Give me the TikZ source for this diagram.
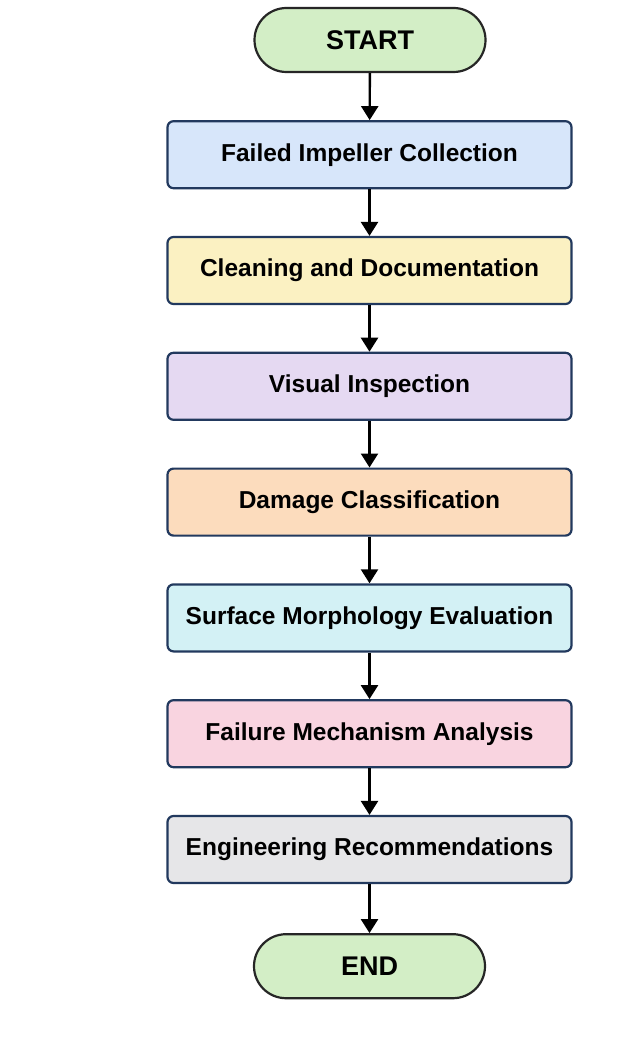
\documentclass[tikz,border=0pt]{standalone}
\usepackage{fontspec}
\setmainfont{Liberation Sans}
\usetikzlibrary{positioning,arrows.meta}

\definecolor{edgeblue}{HTML}{22395E}
\definecolor{termgreen}{HTML}{D3EEC6}
\definecolor{collblue}{HTML}{D7E6FA}
\definecolor{cleanyellow}{HTML}{FBF1C2}
\definecolor{inspviolet}{HTML}{E5D9F2}
\definecolor{classorange}{HTML}{FCDCBD}
\definecolor{morphcyan}{HTML}{D3F1F5}
\definecolor{mechpink}{HTML}{F9D4E0}
\definecolor{recgray}{HTML}{E6E6E8}

\begin{document}
\begin{tikzpicture}[x=1pt,y=1pt,
  stage/.style={draw=edgeblue, line width=2.2pt, rounded corners=6pt,
    minimum width=404pt, minimum height=67pt, inner sep=0pt,
    font=\fontsize{24.5}{28}\selectfont\bfseries},
  term/.style={draw=black!85, line width=2.2pt, fill=termgreen, rounded corners=32pt,
    minimum width=231pt, minimum height=64pt, inner sep=0pt,
    font=\fontsize{27}{30}\selectfont\bfseries},
  node distance=46.6pt]
\useasboundingbox[fill=white] (0,0) rectangle (627,-1051);

\node[term] (start) at (370,-40) {START};
\node[stage, fill=collblue, below=47pt of start.south, anchor=north, xshift=-0.5pt] (collect) {Failed Impeller Collection};
\node[stage, fill=cleanyellow, below=of collect] (clean) {Cleaning and Documentation};
\node[stage, fill=inspviolet, below=of clean] (inspect) {Visual Inspection};
\node[stage, fill=classorange, below=of inspect] (classify) {Damage Classification};
\node[stage, fill=morphcyan, below=of classify] (morph) {Surface Morphology Evaluation};
\node[stage, fill=mechpink, below=of morph] (mech) {Failure Mechanism Analysis};
\node[stage, fill=recgray, below=of mech] (recomm) {Engineering Recommendations};
\node[term, below=49pt of recomm] (end) {END};

\path[draw,line width=2.4pt,-{Triangle[length=14pt,width=17pt]}] (start) -- (collect);
\path[draw,line width=2.4pt,-{Triangle[length=14pt,width=17pt]}] (collect) -- (clean);
\path[draw,line width=2.4pt,-{Triangle[length=14pt,width=17pt]}] (clean) -- (inspect);
\path[draw,line width=2.4pt,-{Triangle[length=14pt,width=17pt]}] (inspect) -- (classify);
\path[draw,line width=2.4pt,-{Triangle[length=14pt,width=17pt]}] (classify) -- (morph);
\path[draw,line width=2.4pt,-{Triangle[length=14pt,width=17pt]}] (morph) -- (mech);
\path[draw,line width=2.4pt,-{Triangle[length=14pt,width=17pt]}] (mech) -- (recomm);
\path[draw,line width=2.4pt,-{Triangle[length=14pt,width=17pt]}] (recomm) -- (end);
\end{tikzpicture}
\end{document}
